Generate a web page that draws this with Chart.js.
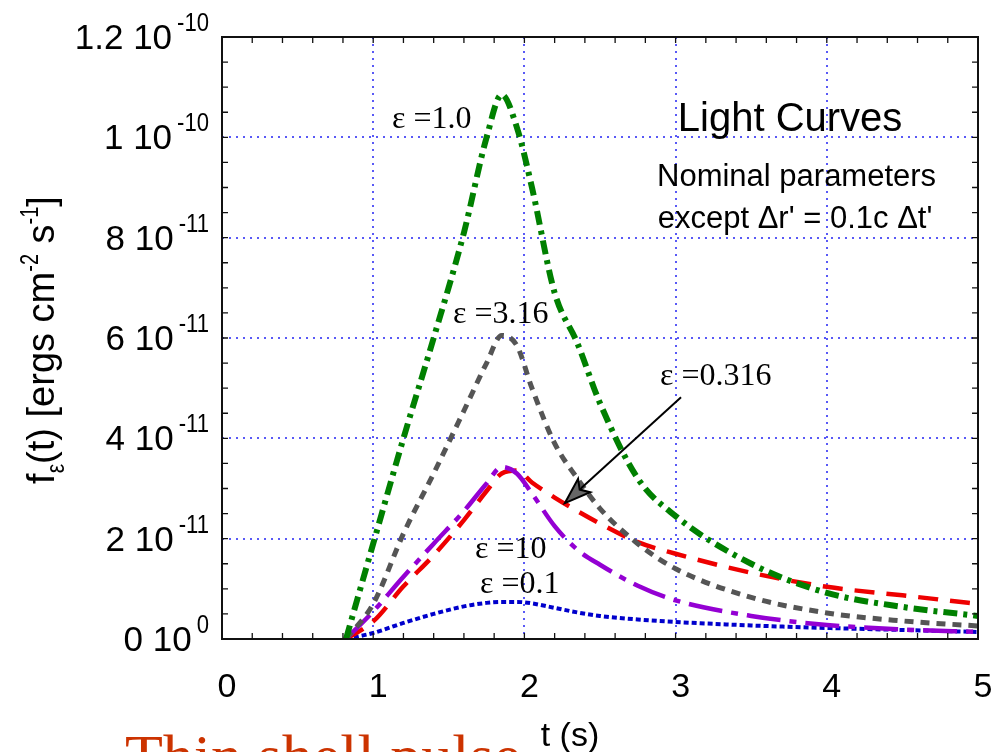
<!DOCTYPE html>
<html>
<head>
<meta charset="utf-8">
<script src="https://cdn.jsdelivr.net/npm/chart.js@4.4.1/dist/chart.umd.min.js"></script>
<style>
  html, body { margin: 0; padding: 0; background: #fff; }
  #wrap { width: 995px; height: 752px; }
</style>
</head>
<body>
<div id="wrap"><canvas id="lc" width="995" height="752"></canvas></div>
<script>
// time samples (s), shared by every curve
const times = [0.82, 1.0, 1.2, 1.4, 1.6, 1.75, 1.85, 1.95, 2.05, 2.2, 2.35, 2.5, 2.75, 3.0, 3.5, 4.0, 4.5, 5.0];

// flux f_eps(t) in units of 1e-11 ergs cm^-2 s^-1
const fluxEps1   = [0, 1.9, 4.0, 6.0, 8.1, 10.0, 10.85, 10.2, 9.0, 6.9, 5.9, 4.7, 3.2, 2.45, 1.5, 0.92, 0.64, 0.46];
const fluxEps316 = [0, 0.7, 2.1, 3.3, 4.55, 5.5, 6.05, 5.85, 5.0, 3.9, 3.2, 2.6, 1.9, 1.4, 0.83, 0.52, 0.36, 0.26];
const fluxEps10  = [0, 0.55, 1.24, 1.9, 2.55, 3.1, 3.43, 3.3, 2.9, 2.25, 1.78, 1.48, 1.06, 0.77, 0.46, 0.28, 0.19, 0.14];
const fluxEps0316 = [0, 0.35, 1.05, 1.67, 2.37, 2.95, 3.3, 3.36, 3.12, 2.82, 2.55, 2.3, 1.93, 1.7, 1.32, 1.04, 0.87, 0.70];
const fluxEps01  = [0, 0.12, 0.32, 0.5, 0.65, 0.72, 0.74, 0.74, 0.71, 0.62, 0.53, 0.46, 0.39, 0.34, 0.27, 0.22, 0.18, 0.14];

const UNIT = 1e-11;
const xTicks = [0, 1, 2, 3, 4, 5];
const yTicks = [0, 2, 4, 6, 8, 10, 12];

// curve labels: [text, t, flux] (left edge, vertical middle)
const curveLabels = [
  ["\u03b5 =1.0", 1.124, 10.38],
  ["\u03b5 =3.16", 1.528, 6.5],
  ["\u03b5 =0.316", 2.897, 5.26],
  ["\u03b5 =10", 1.673, 1.81],
  ["\u03b5 =0.1", 1.706, 1.12]
];
// arrow pointing at the eps = 0.316 curve: [tFrom, fFrom, tTo, fTo]
const arrow = [3.036, 4.82, 2.268, 2.71];

const SANS = '"Liberation Sans", Arial, Helvetica, sans-serif';
const SERIF = '"Liberation Serif", "Times New Roman", serif';

function pts(vals) {
  return times.map((t, i) => ({ x: t, y: vals[i] }));
}

// draws text squeezed horizontally by sx, left aligned at x
function condensed(ctx, str, x, y, sx) {
  ctx.save();
  ctx.translate(x, y);
  ctx.scale(sx, 1);
  ctx.textAlign = "left";
  ctx.fillText(str, 0, 0);
  ctx.restore();
  return ctx.measureText(str).width * sx;
}

function tickLabel(v) {
  const val = v * UNIT;
  if (val === 0) return ["0 10", "0"];
  const e = Math.floor(Math.log10(val) + 1e-9);
  const m = Math.round(val / Math.pow(10, e) * 10) / 10;
  return [m + " 10", String(e)];
}

const decorations = {
  id: "decorations",
  afterDatasetsDraw(chart) {
    const ctx = chart.ctx;
    const xs = chart.scales.x, ys = chart.scales.y;
    const a = chart.chartArea;
    ctx.save();

    // frame
    ctx.strokeStyle = "#111";
    ctx.lineWidth = 2;
    ctx.setLineDash([]);
    ctx.strokeRect(a.left, a.top, a.right - a.left, a.bottom - a.top);

    // inward minor ticks on all four sides
    ctx.lineWidth = 1.3;
    ctx.beginPath();
    for (let k = 0; k <= 25; k++) {
      const px = xs.getPixelForValue(k * 0.2);
      ctx.moveTo(px, a.bottom); ctx.lineTo(px, a.bottom - 6);
      ctx.moveTo(px, a.top); ctx.lineTo(px, a.top + 6);
    }
    for (let k = 0; k <= 24; k++) {
      const py = ys.getPixelForValue(k * 0.5);
      ctx.moveTo(a.left, py); ctx.lineTo(a.left + 6, py);
      ctx.moveTo(a.right, py); ctx.lineTo(a.right - 6, py);
    }
    ctx.stroke();

    ctx.fillStyle = "#000";
    ctx.textBaseline = "alphabetic";

    // x tick labels
    ctx.font = "34px " + SANS;
    ctx.textAlign = "center";
    xTicks.forEach(t => {
      ctx.fillText(String(t), xs.getPixelForValue(t) + 5, a.bottom + 58);
    });

    // y tick labels with power-of-ten exponent
    const expRight = 209;
    yTicks.forEach(v => {
      const py = ys.getPixelForValue(v);
      const [base, exp] = tickLabel(v);
      ctx.font = "26px " + SANS;
      const ew = ctx.measureText(exp).width * 0.85;
      condensed(ctx, exp, expRight - ew, py - 6, 0.85);
      ctx.font = "35px " + SANS;
      ctx.textAlign = "right";
      ctx.fillText(base, expRight - ew - 5, py + 12);
    });

    // x axis title
    ctx.font = "34px " + SANS;
    ctx.textAlign = "center";
    ctx.fillText("t (s)", 570, 746);

    // y axis title, rotated, with sub- and superscripts
    const parts = [
      ["f", 0, 38, 1],
      ["\u03b5", 10, 25, 0.85],
      ["(t) [ergs cm", 0, 38, 1],
      ["-2", -16, 25, 0.8],
      [" s", 0, 38, 1],
      ["-1", -16, 25, 0.8],
      ["]", 0, 38, 1]
    ];
    let total = 0;
    parts.forEach(p => {
      ctx.font = p[2] + "px " + SANS;
      total += ctx.measureText(p[0]).width * p[3];
    });
    ctx.save();
    ctx.translate(54, 340);
    ctx.rotate(-Math.PI / 2);
    let cx = -total / 2;
    parts.forEach(p => {
      ctx.font = p[2] + "px " + SANS;
      cx += condensed(ctx, p[0], cx, p[1], p[3]);
    });
    ctx.restore();

    // panel text
    ctx.textAlign = "center";
    ctx.font = "40px " + SANS;
    ctx.fillText("Light Curves", xs.getPixelForValue(3.757), ys.getPixelForValue(10.4) + 14);
    ctx.font = "31px " + SANS;
    ctx.fillText("Nominal parameters", xs.getPixelForValue(3.8), ys.getPixelForValue(9.25) + 11);
    ctx.fillText("except \u0394r' = 0.1c \u0394t'", xs.getPixelForValue(3.79), ys.getPixelForValue(8.41) + 11);

    // curve labels
    ctx.font = "32px " + SERIF;
    ctx.textAlign = "left";
    curveLabels.forEach(([txt, t, f]) => {
      ctx.fillText(txt, xs.getPixelForValue(t), ys.getPixelForValue(f) + 10);
    });

    // arrow
    const x0 = xs.getPixelForValue(arrow[0]), y0 = ys.getPixelForValue(arrow[1]);
    const x1 = xs.getPixelForValue(arrow[2]), y1 = ys.getPixelForValue(arrow[3]);
    const ca = Math.cos(Math.atan2(y1 - y0, x1 - x0)), sa = Math.sin(Math.atan2(y1 - y0, x1 - x0));
    ctx.strokeStyle = "#000";
    ctx.lineWidth = 2;
    ctx.beginPath();
    ctx.moveTo(x0, y0);
    ctx.lineTo(x1 - 20 * ca, y1 - 20 * sa);
    ctx.stroke();
    ctx.beginPath();
    ctx.moveTo(x1, y1);
    ctx.lineTo(x1 - 26 * ca + 9 * sa, y1 - 26 * sa - 9 * ca);
    ctx.lineTo(x1 - 20 * ca, y1 - 20 * sa);
    ctx.lineTo(x1 - 26 * ca - 9 * sa, y1 - 26 * sa + 9 * ca);
    ctx.closePath();
    ctx.fillStyle = "#666";
    ctx.fill();
    ctx.stroke();

    // slide caption below the plot
    ctx.fillStyle = "#cc3300";
    ctx.font = "62px " + SERIF;
    ctx.textAlign = "left";
    ctx.fillText("Thin shell pulse", 125, 777);

    ctx.restore();
  }
};

const gridStyle = {
  color: "rgba(60, 60, 245, 0.85)",
  lineWidth: 2,
  drawTicks: false,
  tickLength: 0
};

new Chart(document.getElementById("lc"), {
  type: "line",
  data: {
    datasets: [
      { label: "eps=1.0", data: pts(fluxEps1), borderColor: "#008000", borderWidth: 6, borderDash: [14, 6, 4, 6] },
      { label: "eps=3.16", data: pts(fluxEps316), borderColor: "#555555", borderWidth: 5, borderDash: [9, 7] },
      { label: "eps=10", data: pts(fluxEps10), borderColor: "#9400d3", borderWidth: 4.5, borderDash: [34, 9, 7, 9] },
      { label: "eps=0.316", data: pts(fluxEps0316), borderColor: "#ee0000", borderWidth: 4.5, borderDash: [20, 12] },
      { label: "eps=0.1", data: pts(fluxEps01), borderColor: "#0000cc", borderWidth: 4, borderDash: [5, 3] }
    ]
  },
  options: {
    responsive: false,
    devicePixelRatio: 1,
    animation: false,
    layout: { padding: { left: 222, right: 17, top: 37, bottom: 113 } },
    elements: {
      point: { radius: 0 },
      line: { cubicInterpolationMode: "monotone", fill: false }
    },
    plugins: { legend: { display: false }, tooltip: { enabled: false } },
    scales: {
      x: {
        type: "linear", min: 0, max: 5,
        ticks: { stepSize: 1, display: false },
        grid: gridStyle,
        border: { display: false, dash: [2, 5] }
      },
      y: {
        type: "linear", min: 0, max: 12,
        ticks: { stepSize: 2, display: false },
        grid: gridStyle,
        border: { display: false, dash: [2, 5] }
      }
    }
  },
  plugins: [decorations]
});
</script>
</body>
</html>
